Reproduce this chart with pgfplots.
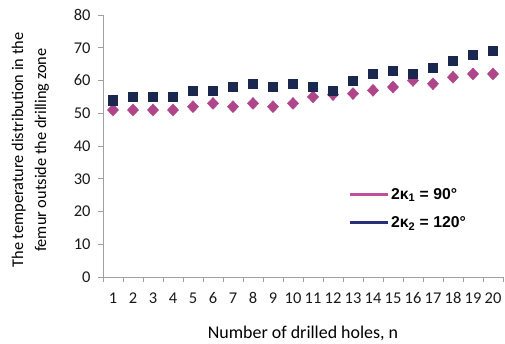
\documentclass[border=0pt]{standalone}
\usepackage{pgfplots}
\pgfplotsset{compat=1.18}
\usepackage{fontspec}
\setmainfont{Carlito}
\newfontfamily\arialf{Liberation Sans}
\definecolor{pinkc}{HTML}{B0468A}
\definecolor{navyc}{HTML}{1A2850}
\definecolor{pinkl}{HTML}{C0509A}
\definecolor{navyl}{HTML}{28307A}
\definecolor{axgray}{HTML}{A0A0A0}
\begin{document}
\begin{tikzpicture}
\begin{axis}[
  scale only axis,
  width=400bp, height=262bp,
  xmin=0.5, xmax=20.5, ymin=0, ymax=80,
  axis x line*=bottom, axis y line*=left,
  axis line style={axgray, line width=0.8pt},
  xtick={1,...,20},
  minor xtick={0.5,1.5,...,20.5},
  major x tick style={draw=none},
  minor x tick style={axgray, line width=0.8pt},
  minor tick length=5bp,
  ytick={0,10,...,80},
  y tick style={axgray, line width=0.8pt},
  major tick length=5bp,
  tick align=outside,
  tick label style={font=\fontsize{16.5}{18}\selectfont, text=black!90},
  /pgf/number format/assume math mode=true,
  xticklabel style={yshift=-7bp},
  yticklabel style={xshift=-4bp},
  xlabel={Number of drilled holes, n},
  xlabel style={font=\fontsize{18}{20}\selectfont, text=black, yshift=-15bp},
  ylabel={\shortstack{The temperature distribution in the\\[6bp]femur outside the drilling zone}},
  ylabel style={font=\fontsize{16.4}{18}\selectfont, text=black, yshift=18bp, xshift=-4bp},
  legend style={draw=none, fill=none, at={(rel axis cs:0.605,0.355)}, anchor=north west,
    font=\arialf\bfseries\fontsize{15.8}{17}\selectfont, row sep=12bp},
  legend cell align=left,
  clip=false,
]
\addplot[only marks, mark=diamond*, mark size=6bp, mark options={fill=pinkc, draw=pinkc, xscale=1.25},
  legend image code/.code={\draw[pinkl, line width=3pt] (0bp,0bp) -- (38bp,0bp);}]
coordinates {
(1,51)(2,51)(3,51)(4,51)(5,52)(6,53)(7,52)(8,53)(9,52)(10,53)
(11,55)(12,55.7)(13,56)(14,57)(15,58)(16,60)(17,59)(18,61)(19,62)(20,62)};
\addlegendentry{2κ\textsubscript{1} = 90°}
\addplot[only marks, mark=square*, mark size=4.6bp, mark options={fill=navyc, draw=navyc},
  legend image code/.code={\draw[navyl, line width=3pt] (0bp,0bp) -- (38bp,0bp);}]
coordinates {
(1,54)(2,55)(3,55)(4,55)(5,57)(6,57)(7,58)(8,59)(9,58)(10,59)
(11,58)(12,57)(13,60)(14,62)(15,63)(16,62)(17,64)(18,66)(19,68)(20,69)};
\addlegendentry{2κ\textsubscript{2} = 120°}
\end{axis}
\pgfresetboundingbox
\path[use as bounding box] (-103bp,-67bp) rectangle (402bp,277bp);
\end{tikzpicture}
\end{document}
